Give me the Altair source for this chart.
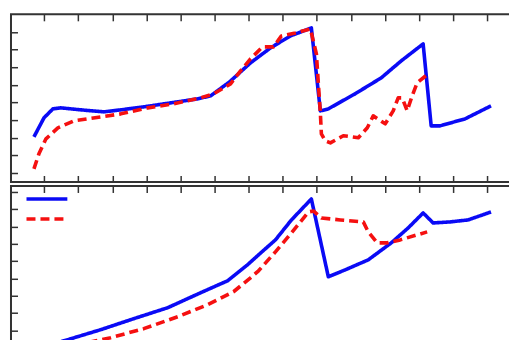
import altair as alt
import pandas as pd

# ---- data ----
series = ["model", "measured"]
colors = ["#0a0af5", "#f51010"]
dashes = [[1, 0], [9, 5]]

top_blue_x = [0.349, 0.496, 0.627, 0.744, 1.037, 1.374, 1.623, 1.960, 2.355, 2.750, 2.941, 3.219, 3.526, 3.819, 4.112, 4.419,
              4.551, 4.668, 5.064, 5.444, 5.737, 6.059, 6.177, 6.308, 6.674, 7.055]
top_blue_y = [2.058, 3.134, 3.643, 3.700, 3.587, 3.473, 3.587, 3.757, 3.983, 4.210, 4.380, 5.172, 6.248, 7.097, 7.777, 8.230,
              3.530, 3.643, 4.504, 5.399, 6.361, 7.324, 2.681, 2.681, 3.077, 3.813]

top_red_x = [0.349, 0.422, 0.525, 0.700, 0.935, 1.330, 1.623, 2.018, 2.399, 2.794, 2.984, 3.233, 3.380, 3.526, 3.702, 3.863,
             3.980, 4.185, 4.405, 4.493, 4.522, 4.551, 4.566, 4.624, 4.698, 4.888, 5.108, 5.240, 5.327, 5.503, 5.620,
             5.693, 5.752, 5.825, 5.898, 5.971, 6.132]
top_red_y = [0.246, 1.095, 1.944, 2.567, 2.964, 3.190, 3.360, 3.700, 3.926, 4.266, 4.493, 5.059, 5.795, 6.475, 7.154, 7.154,
             7.777, 7.947, 8.173, 6.758, 5.059, 3.417, 2.228, 1.831, 1.718, 2.121, 2.007, 2.573, 3.247, 2.794, 3.530,
             4.266, 4.266, 3.530, 4.379, 5.115, 5.625]

bot_blue_x = [0.349, 0.496, 0.847, 1.330, 1.813, 2.311, 2.794, 3.190, 3.482, 3.644, 3.892, 4.127, 4.419, 4.668, 4.917,
              5.254, 5.591, 5.840, 6.059, 6.206, 6.455, 6.718, 7.055]
bot_blue_y = [0.017, 0.075, 0.477, 1.052, 1.684, 2.316, 3.178, 3.868, 4.787, 5.362, 6.224, 7.374, 8.580, 4.098, 4.500,
              5.075, 6.052, 6.914, 7.776, 7.201, 7.259, 7.374, 7.833]

bot_red_x = [0.349, 0.422, 0.598, 0.993, 1.477, 1.960, 2.458, 2.897, 3.277, 3.526, 3.644, 3.892, 4.127, 4.376, 4.449,
             4.566, 4.844, 5.181, 5.254, 5.386, 5.532, 5.723, 6.118]
bot_red_y = [0.190, 0.017, 0.017, 0.190, 0.592, 1.109, 1.799, 2.489, 3.236, 4.040, 4.443, 5.534, 6.626, 7.833, 7.891,
             7.489, 7.374, 7.259, 6.684, 6.052, 6.052, 6.224, 6.684]

x_ticks = [0.5 * k for k in range(1, 15)]
top_y_ticks = list(range(0, 9))
bot_y_ticks = list(range(0, 10))


def make_df(bx, by, rx, ry):
    rows = [{"x": a, "y": b, "series": series[0], "order": i} for i, (a, b) in enumerate(zip(bx, by))]
    rows += [{"x": a, "y": b, "series": series[1], "order": i} for i, (a, b) in enumerate(zip(rx, ry))]
    return pd.DataFrame(rows)


TICK = 6.5
inward = dict(labels=False, domain=False, grid=False, ticks=True, tickSize=TICK, offset=-TICK,
              tickColor="#333333", tickWidth=1.5, title=None)

legend = alt.Legend(title=None, orient="none", legendX=30, legendY=179, labelExpr="''",
                    symbolType="M-5,0L5,0", symbolSize=67, symbolStrokeWidth=3.5,
                    rowPadding=6, padding=0, labelFontSize=1)


def panel(df, ydomain, yticks):
    xscale = alt.Scale(domain=[0.012, 7.436], nice=False, zero=False)
    yscale = alt.Scale(domain=ydomain, nice=False, zero=False)
    base = alt.Chart(df)
    lines = base.mark_line(strokeWidth=3.6, strokeJoin="round", clip=True).encode(
        x=alt.X("x:Q", scale=xscale, axis=alt.Axis(orient="bottom", values=x_ticks, **inward)),
        y=alt.Y("y:Q", scale=yscale, axis=alt.Axis(orient="left", values=yticks, **inward)),
        color=alt.Color("series:N", scale=alt.Scale(domain=series, range=colors), legend=legend),
        strokeDash=alt.StrokeDash("series:N", scale=alt.Scale(domain=series, range=dashes), legend=legend),
        order="order:Q",
    )
    mirror = base.mark_line(opacity=0, clip=True).encode(
        x=alt.X("x:Q", scale=xscale, axis=alt.Axis(orient="top", values=x_ticks, **inward)),
        y=alt.Y("y:Q", scale=yscale, axis=alt.Axis(orient="right", values=yticks, **inward)),
        detail="series:N",
        order="order:Q",
    )
    return alt.layer(lines, mirror).resolve_axis(x="independent", y="independent").properties(
        width=507, height=168)


top = panel(make_df(top_blue_x, top_blue_y, top_red_x, top_red_y), [-0.5, 9.0], top_y_ticks)
bottom = panel(make_df(bot_blue_x, bot_blue_y, bot_red_x, bot_red_y), [-0.33, 9.33], bot_y_ticks)

chart = alt.vconcat(top, bottom, spacing=0).properties(
    padding={"left": 1, "top": 4, "right": -10, "bottom": -16}
).configure_view(stroke="#333333", strokeWidth=2)

chart.save("out.html", embed_options={"renderer": "svg", "actions": False})
